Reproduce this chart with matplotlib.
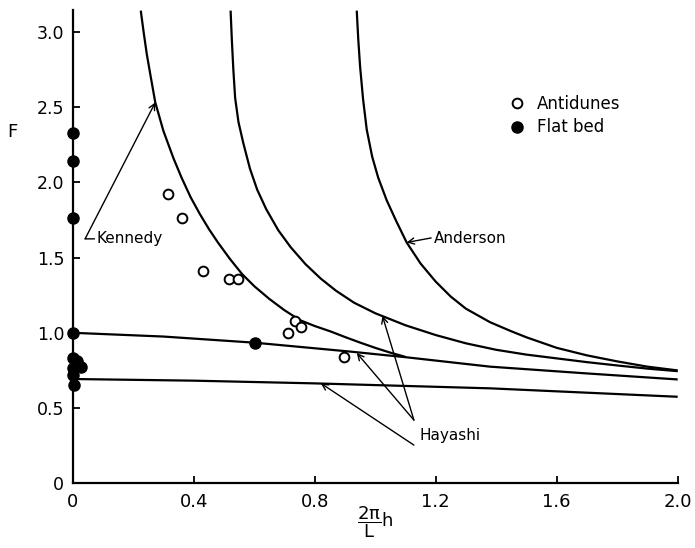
import matplotlib
matplotlib.use("Agg")
import matplotlib.pyplot as plt

# ---- data ----
antidunes_x = [0.316, 0.362, 0.432, 0.518, 0.547, 0.713, 0.735, 0.754, 0.898]
antidunes_F = [1.92, 1.76, 1.41, 1.355, 1.36, 1.00, 1.075, 1.04, 0.84]

flatbed_x = [0.0, 0.0, 0.0, 0.0, 0.603, 0.0, 0.015, 0.027, 0.0, 0.0, 0.003]
flatbed_F = [2.33, 2.14, 1.76, 1.00, 0.934, 0.83, 0.815, 0.775, 0.764, 0.72, 0.655]

kennedy_x = [0.225, 0.235, 0.245, 0.258, 0.273, 0.300, 0.333, 0.360, 0.390, 0.420, 0.450,
             0.480, 0.520, 0.560, 0.600, 0.650, 0.700, 0.750, 0.800, 0.851, 0.900, 0.950,
             1.000, 1.050, 1.100]
kennedy_F = [3.14, 2.99, 2.85, 2.70, 2.53, 2.34, 2.16, 2.03, 1.90, 1.79, 1.69,
             1.60, 1.49, 1.39, 1.31, 1.225, 1.15, 1.085, 1.045, 1.01, 0.972, 0.935,
             0.90, 0.868, 0.84]

middle_x = [0.522, 0.526, 0.531, 0.537, 0.548, 0.564, 0.586, 0.610, 0.640, 0.680, 0.720,
            0.770, 0.820, 0.870, 0.930, 1.000, 1.100, 1.200, 1.300, 1.400, 1.500, 1.600,
            1.700, 1.800, 1.900, 2.000]
middle_F = [3.14, 2.95, 2.75, 2.56, 2.40, 2.26, 2.09, 1.95, 1.82, 1.68, 1.57,
            1.455, 1.36, 1.28, 1.20, 1.13, 1.05, 0.985, 0.93, 0.887, 0.855, 0.83,
            0.805, 0.783, 0.762, 0.745]

anderson_x = [0.939, 0.944, 0.950, 0.960, 0.972, 0.990, 1.010, 1.038, 1.070, 1.104, 1.150,
              1.200, 1.250, 1.300, 1.380, 1.450, 1.500, 1.600, 1.700, 1.800, 1.900, 2.000]
anderson_F = [3.14, 2.95, 2.77, 2.55, 2.35, 2.17, 2.03, 1.88, 1.74, 1.60, 1.46,
              1.34, 1.24, 1.16, 1.07, 1.01, 0.97, 0.90, 0.85, 0.81, 0.775, 0.75]

hayashi_upper_x = [0.0, 0.300, 0.603, 0.918, 1.016, 1.100, 1.380, 1.700, 2.000]
hayashi_upper_F = [1.00, 0.975, 0.934, 0.875, 0.855, 0.838, 0.775, 0.73, 0.69]

hayashi_lower_x = [0.0, 0.400, 0.800, 1.380, 2.000]
hayashi_lower_F = [0.693, 0.682, 0.664, 0.631, 0.575]

xticks = [0, 0.4, 0.8, 1.2, 1.6, 2.0]
xticklabels = ["0", "0.4", "0.8", "1.2", "1.6", "2.0"]
yticks = [0, 0.5, 1.0, 1.5, 2.0, 2.5, 3.0]
yticklabels = ["0", "0.5", "1.0", "1.5", "2.0", "2.5", "3.0"]

plt.rcParams["font.family"] = ["DejaVu Sans"]

fig = plt.figure(figsize=(6.95, 5.48), dpi=100)
ax = fig.add_axes([0.1046, 0.118, 0.8705, 0.864])

lw = 1.6
for xs, ys in [(kennedy_x, kennedy_F), (middle_x, middle_F), (anderson_x, anderson_F),
               (hayashi_upper_x, hayashi_upper_F), (hayashi_lower_x, hayashi_lower_F)]:
    ax.plot(xs, ys, color="black", lw=lw, solid_capstyle="butt", solid_joinstyle="round")

ax.plot(antidunes_x, antidunes_F, linestyle="none", marker="o", ms=7, mfc="white",
        mec="black", mew=1.4, label="Antidunes", clip_on=False, zorder=5)
ax.plot(flatbed_x, flatbed_F, linestyle="none", marker="o", ms=8, mfc="black",
        mec="black", label="Flat bed", clip_on=False, zorder=5)

ax.set_xlim(0, 2.0)
ax.set_ylim(0, 3.145)
ax.set_xticks(xticks)
ax.set_xticklabels(xticklabels)
ax.set_yticks(yticks)
ax.set_yticklabels(yticklabels)
ax.tick_params(direction="in", length=5, width=1.3, labelsize=12.5, pad=6)
ax.tick_params(axis="x", labelsize=13, pad=7)
for s in ["top", "right"]:
    ax.spines[s].set_visible(False)
for s in ["left", "bottom"]:
    ax.spines[s].set_linewidth(1.6)

ax.set_xlabel(r"$\mathregular{\dfrac{2\pi}{L}h}$", fontsize=13, labelpad=-5)
ax.set_ylabel("F", fontsize=13, rotation=0, va="center", ha="center")
ax.yaxis.set_label_coords(-0.10, 0.742)

ax.legend(loc="upper left", bbox_to_anchor=(0.71, 0.835), frameon=False, fontsize=12,
          handlelength=1.0, handletextpad=0.7, labelspacing=0.35, borderaxespad=0)

ap = dict(arrowstyle="->", lw=1.0, color="black", shrinkA=0, shrinkB=0, mutation_scale=11)
apl = dict(arrowstyle="-", lw=1.0, color="black", shrinkA=0, shrinkB=0)

# Kennedy
ax.text(0.078, 1.624, "Kennedy", fontsize=11, va="center", ha="left")
ax.annotate("", xy=(0.072, 1.624), xytext=(0.041, 1.624), arrowprops=apl)
ax.annotate("", xy=(0.273, 2.53), xytext=(0.041, 1.624), arrowprops=ap)

# Anderson
ax.text(1.195, 1.624, "Anderson", fontsize=11, va="center", ha="left")
ax.annotate("", xy=(1.104, 1.60), xytext=(1.185, 1.630), arrowprops=ap)

# Hayashi
ax.text(1.148, 0.316, "Hayashi", fontsize=11, va="center", ha="left")
ax.annotate("", xy=(1.024, 1.112), xytext=(1.128, 0.42), arrowprops=ap)
ax.annotate("", xy=(0.939, 0.866), xytext=(1.128, 0.42), arrowprops=ap)
ax.annotate("", xy=(0.82, 0.665), xytext=(1.128, 0.254), arrowprops=ap)

fig.savefig("out.png", dpi=100)
